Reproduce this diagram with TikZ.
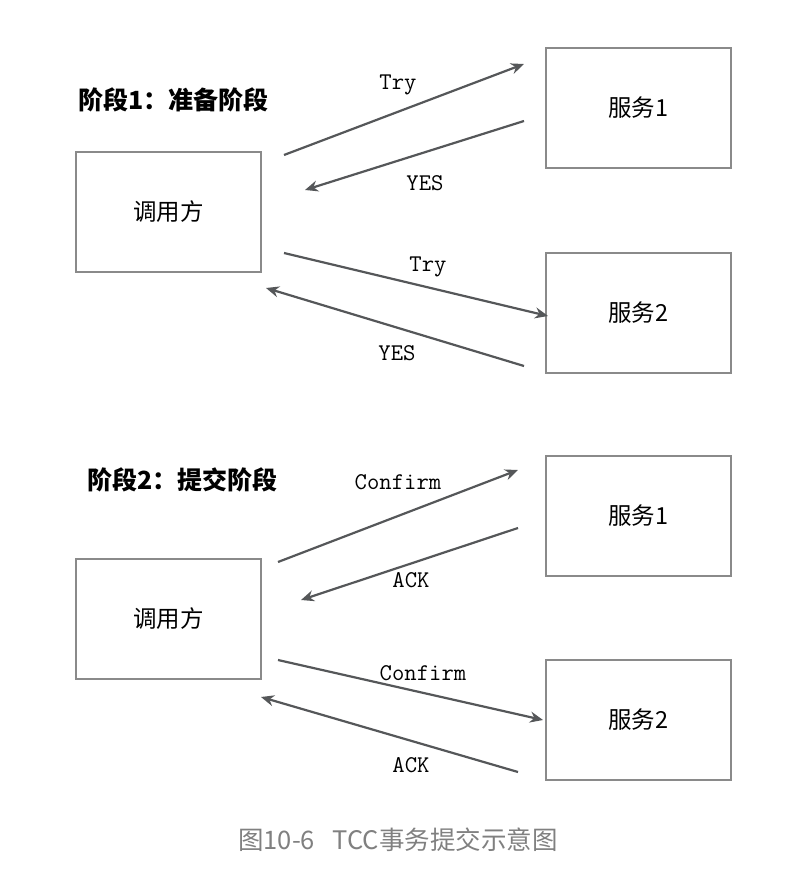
\documentclass[tikz,border=0pt]{standalone}
\usepackage{fontspec}
\newfontfamily\cjk{Noto Sans CJK SC}
\usetikzlibrary{arrows.meta}
\definecolor{boxgray}{HTML}{8A8A8A}
\definecolor{arrgray}{HTML}{555759}
\definecolor{capgray}{HTML}{808080}
\begin{document}
\begin{tikzpicture}[x=1pt,y=-1pt,
  box/.style={draw=boxgray,line width=2pt,minimum width=185pt,minimum height=120pt,inner sep=0pt,font=\cjk\fontsize{23.5}{26}\selectfont},
  msg/.style={draw=arrgray,line width=2.2pt,-{Stealth[length=13pt,width=11pt]}},
  lbl/.style={font=\ttfamily\fontsize{24}{26}\selectfont,text=black},
  ttl/.style={font=\cjk\bfseries\fontsize{25}{28}\selectfont,anchor=west,inner sep=0pt}]
\useasboundingbox (0,0) rectangle (798,894);
% phase 1
\node[ttl] (t1) at (78,100) {阶段1：准备阶段};
\node[box] (c1) at (168.5,212) {调用方};
\node[box] (s11) at (638.5,108) {服务1};
\node[box] (s12) at (638.5,313) {服务2};
\coordinate (a1s) at (284,155); \coordinate (a1e) at (524,64);
\coordinate (b1s) at (524,121); \coordinate (b1e) at (305,190);
\coordinate (a2s) at (284,253); \coordinate (a2e) at (548,316);
\coordinate (b2s) at (524,366); \coordinate (b2e) at (266,288);
\draw[msg] (a1s) -- (a1e);
\draw[msg] (b1s) -- (b1e);
\draw[msg] (a2s) -- (a2e);
\draw[msg] (b2s) -- (b2e);
\node[lbl] (l1) at (398,85) {Try};
\node[lbl] (l2) at (425,183) {YES};
\node[lbl] (l3) at (428,267) {Try};
\node[lbl] (l4) at (397,353) {YES};
% phase 2
\node[ttl] (t2) at (87,480) {阶段2：提交阶段};
\node[box] (c2) at (168.5,619) {调用方};
\node[box] (s21) at (638.5,516) {服务1};
\node[box] (s22) at (638.5,720) {服务2};
\coordinate (c1s) at (278,562); \coordinate (c1e) at (518,470);
\coordinate (d1s) at (518,528); \coordinate (d1e) at (301,600);
\coordinate (c2s) at (278,660); \coordinate (c2e) at (543,720);
\coordinate (d2s) at (518,772); \coordinate (d2e) at (261,697);
\draw[msg] (c1s) -- (c1e);
\draw[msg] (d1s) -- (d1e);
\draw[msg] (c2s) -- (c2e);
\draw[msg] (d2s) -- (d2e);
\node[lbl] (l5) at (398,482) {Confirm};
\node[lbl] (l6) at (411,580) {ACK};
\node[lbl] (l7) at (423,673) {Confirm};
\node[lbl] (l8) at (411,765) {ACK};
% caption
\node[font=\cjk\fontsize{25.5}{28}\selectfont,text=capgray] (cap) at (398,840) {图10-6\hspace{0.7em}TCC事务提交示意图};
\end{tikzpicture}
\end{document}
